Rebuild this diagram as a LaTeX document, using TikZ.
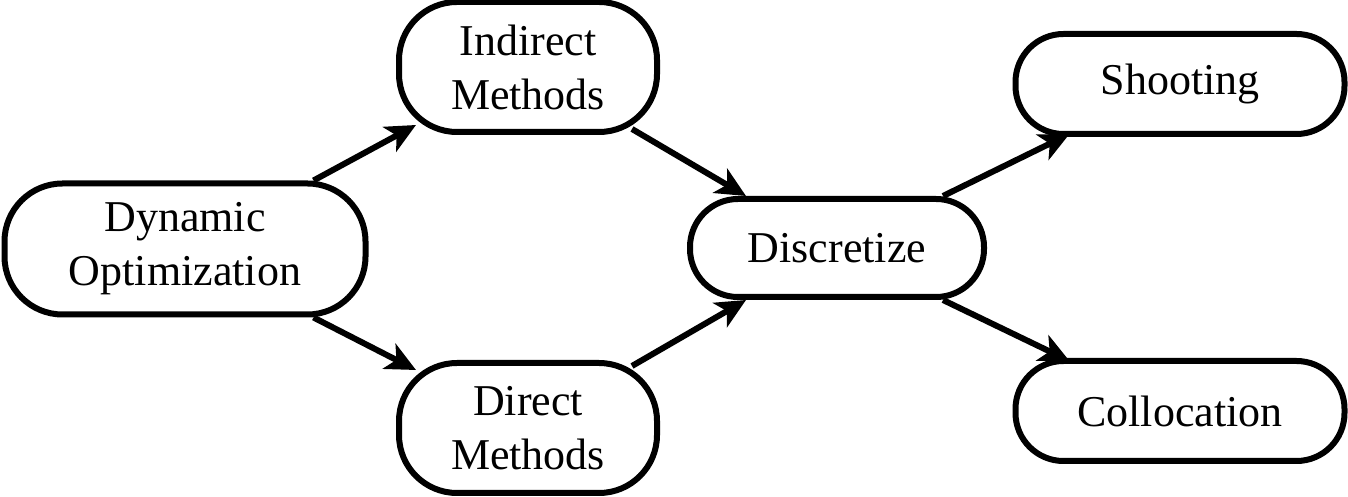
\documentclass[tikz,border=0pt]{standalone}
\usepackage{fontspec}
\setmainfont{Liberation Serif}
\usepackage{tikz}
\usetikzlibrary{arrows.meta}
\tikzset{
  stage/.style = {align=center, inner sep=0pt, text centered, rectangle,
    draw=black, line width=3pt, font=\fontsize{22}{27}\selectfont},
  tall/.style = {stage, rounded corners=29pt, minimum height=65pt},% two-line box
  flat/.style = {stage, rounded corners=24pt, minimum height=49pt}% one-line box
}

\begin{document}
\begin{tikzpicture}[x=1pt,y=1pt,->,>={Stealth[length=15pt,width=14pt,inset=4pt]},line width=3pt]
\useasboundingbox (0,0) rectangle (674,248.5);
\node [tall, minimum width=180.5pt, minimum height=65.5pt] (dyn) at (92.5,124) {Dynamic\\Optimization};
\node [tall, minimum width=129pt] (ind) at (264,215) {Indirect\\Methods};
\node [tall, minimum width=129pt] (dir) at (264,34.5) {Direct\\Methods};
\node [flat, minimum width=147pt] (dis) at (418.5,124.5) {Discretize};
\node [flat, minimum width=164.5pt, minimum height=50pt] (sho) at (590,206.5) {Shooting};
\node [flat, minimum width=164.5pt, minimum height=50pt] (col) at (590,43) {Collocation};

\draw ([xshift=-27.5pt]dyn.north east) -- ([shift={(10pt,5pt)}]ind.south west);
\draw ([xshift=-27.5pt]dyn.south east) -- ([shift={(10pt,-5pt)}]dir.north west);
\draw ([shift={(-14pt,3pt)}]ind.south east) -- ([xshift=29.5pt]dis.north west);
\draw ([shift={(-14pt,-3pt)}]dir.north east) -- ([xshift=29.5pt]dis.south west);
\draw ([xshift=-22pt]dis.north east) -- ([shift={(28.5pt,1.5pt)}]sho.south west);
\draw ([xshift=-22pt]dis.south east) -- ([shift={(28.5pt,-1.5pt)}]col.north west);
\end{tikzpicture}
\end{document}
